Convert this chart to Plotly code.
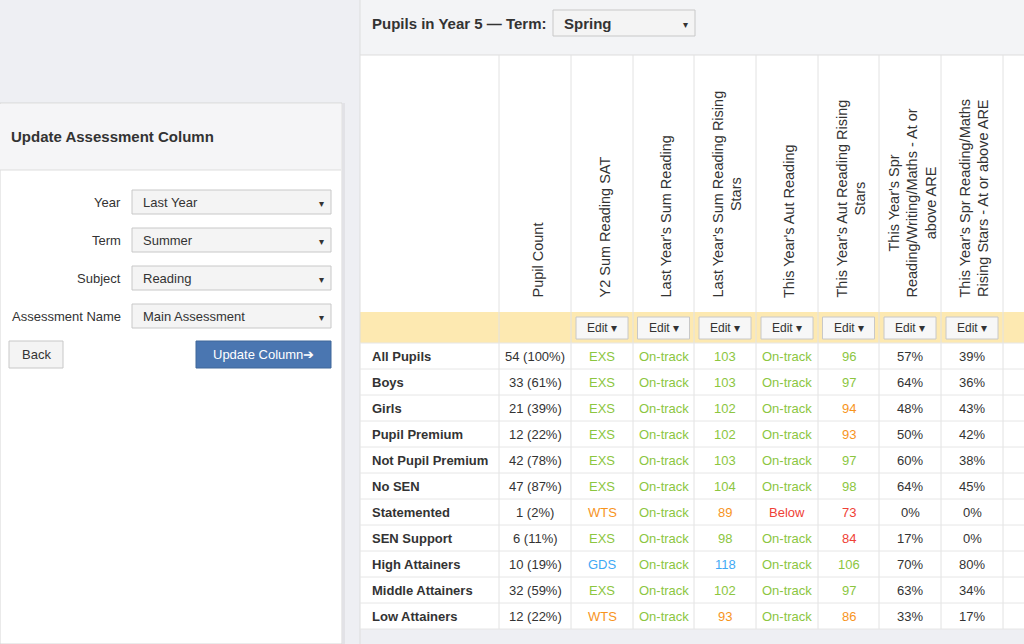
import plotly.graph_objects as go

# ---- data ----
groups = ["All Pupils", "Boys", "Girls", "Pupil Premium", "Not Pupil Premium", "No SEN",
          "Statemented", "SEN Support", "High Attainers", "Middle Attainers", "Low Attainers"]
headers = ["Pupil Count", "Y2 Sum Reading SAT", "Last Year's Sum Reading",
           "Last Year's Sum Reading Rising<br>Stars", "This Year's Aut Reading",
           "This Year's Aut Reading Rising<br>Stars",
           "This Year's Spr<br>Reading/Writing/Maths - At or<br>above ARE",
           "This Year's Spr Reading/Maths<br>Rising Stars - At or above ARE"]
pupil_count = ["54 (100%)", "33 (61%)", "21 (39%)", "12 (22%)", "42 (78%)", "47 (87%)",
               "1 (2%)", "6 (11%)", "10 (19%)", "32 (59%)", "12 (22%)"]
y2_sat = ["EXS", "EXS", "EXS", "EXS", "EXS", "EXS", "WTS", "EXS", "GDS", "EXS", "WTS"]
ly_sum = ["On-track"] * 11
ly_rs = [103, 103, 102, 102, 103, 104, 89, 98, 118, 102, 93]
ly_rs_band = ["g", "g", "g", "g", "g", "g", "o", "g", "b", "g", "o"]
ty_aut = ["On-track"] * 6 + ["Below"] + ["On-track"] * 4
ty_rs = [96, 97, 94, 93, 97, 98, 73, 84, 106, 97, 86]
ty_rs_band = ["g", "g", "o", "o", "g", "g", "r", "r", "g", "g", "o"]
rwm_are = ["57%", "64%", "48%", "50%", "60%", "64%", "0%", "17%", "70%", "63%", "33%"]
rm_are = ["39%", "36%", "43%", "42%", "38%", "45%", "0%", "0%", "80%", "34%", "17%"]

form_labels = ["Year", "Term", "Subject", "Assessment Name"]
form_values = ["Last Year", "Summer", "Reading", "Main Assessment"]

# ---- styling ----
band_col = {"g": "#8cc63f", "o": "#f7941d", "r": "#ef4136", "b": "#3fa9f5", "k": "#333333"}
status_col = {"EXS": "g", "WTS": "o", "GDS": "b", "On-track": "g", "Below": "r"}
FONT = "Liberation Sans, Arial, sans-serif"

fig = go.Figure()
shapes, ann = [], []


def rect(x0, y0, x1, y1, fill, line=None, lw=1):
    shapes.append(dict(type="rect", x0=x0, y0=y0, x1=x1, y1=y1, fillcolor=fill,
                       line=dict(color=line or fill, width=lw if line else 0), layer="below"))


def text(x, y, t, size=13, color="#333", bold=False, xa="left", angle=0, ya="middle"):
    ann.append(dict(x=x, y=y, text=f"<b>{t}</b>" if bold else t, showarrow=False,
                    xanchor=xa, yanchor=ya, textangle=angle,
                    font=dict(size=size, color=color, family=FONT)))


def select(x0, y0, x1, y1, label, bold=False, size=13):
    rect(x0, y0, x1, y1, "#f4f4f4", "#c8c8c8")
    text(x0 + 9, (y0 + y1) / 2, label, size=size, bold=bold)
    text(x1 - 10, (y0 + y1) / 2 + 1, "▾", size=10, xa="center")


# background
rect(0, 0, 1024, 644, "#eeeff3")

# left panel
rect(0, 103, 342, 644, "#ffffff", "#d6d6d6")
rect(342, 103, 345, 644, "#e2e2e6")
rect(0, 104, 341, 170, "#f5f5f7")
shapes.append(dict(type="line", x0=0, x1=341, y0=170, y1=170, line=dict(color="#dddddd", width=1)))
text(9, 136, "Update Assessment Column", size=15, bold=True)
for i, (lab, val) in enumerate(zip(form_labels, form_values)):
    yc = 202 + i * 38
    text(123, yc, lab, size=13, xa="right")
    select(132, yc - 12, 331, yc + 12, val)
rect(9, 341, 63, 368, "#f4f4f4", "#c8c8c8")
text(36, 354, "Back", xa="center")
rect(196, 341, 331, 368, "#4a76b1", "#3e6699")
text(263, 354, "Update Column➔", color="#ffffff", xa="center")

# right area header
rect(360, 0, 1024, 55, "#f3f4f6")
shapes.append(dict(type="line", x0=360, x1=360, y0=0, y1=644, line=dict(color="#dddddd", width=1)))
text(370, 23, "Pupils in Year 5 — Term:", size=15, bold=True)
select(553, 10, 695, 36, "Spring", bold=True, size=15)

# table
col_edges = [360, 499, 571, 633, 694, 756, 818, 879, 941, 1003, 1024]
row_top = 343
row_h = 26
n = len(groups)
table_bottom = row_top + n * row_h
rect(360, 55, 1024, table_bottom, "#ffffff")
rect(360, 312, 1024, row_top, "#fde9b1")
shapes.append(dict(type="line", x0=360, x1=1024, y0=55, y1=55, line=dict(color="#dddddd", width=1)))
for x in col_edges[1:-1]:
    shapes.append(dict(type="line", x0=x, x1=x, y0=55, y1=table_bottom, line=dict(color="#e2e2e2", width=1)))
for r in range(n + 1):
    y = row_top + r * row_h
    shapes.append(dict(type="line", x0=360, x1=1024, y0=y, y1=y, line=dict(color="#e6e6e6", width=1)))

centers = [(col_edges[i] + col_edges[i + 1]) / 2 for i in range(1, 9)]
for c, h in zip(centers, headers):
    text(c + 2, 300, h, size=14.5, xa="center", ya="bottom", angle=-90)
for c in centers[1:]:
    rect(c - 26, 317, c + 26, 339, "#f7f7f7", "#c8c8c8")
    text(c, 328, "Edit ▾", size=12, xa="center")

columns = [
    (pupil_count, ["k"] * n),
    (y2_sat, [status_col[v] for v in y2_sat]),
    (ly_sum, [status_col[v] for v in ly_sum]),
    ([str(v) for v in ly_rs], ly_rs_band),
    (ty_aut, [status_col[v] for v in ty_aut]),
    ([str(v) for v in ty_rs], ty_rs_band),
    (rwm_are, ["k"] * n),
    (rm_are, ["k"] * n),
]
for r, g in enumerate(groups):
    yc = row_top + r * row_h + row_h / 2
    text(370, yc, g, size=13, bold=True)
    for c, (vals, bands) in zip(centers, columns):
        text(c, yc, vals[r], size=13, color=band_col[bands[r]], xa="center")

fig.update_layout(
    width=1024, height=644, margin=dict(l=0, r=0, t=0, b=0),
    paper_bgcolor="#eeeff3", plot_bgcolor="#eeeff3",
    xaxis=dict(range=[0, 1024], visible=False, fixedrange=True),
    yaxis=dict(range=[644, 0], visible=False, fixedrange=True),
    shapes=shapes, annotations=ann, showlegend=False,
)
fig.write_html("out.html", config={"displayModeBar": False},
               post_script="document.body.style.margin='0px';document.body.style.overflow='hidden';")
